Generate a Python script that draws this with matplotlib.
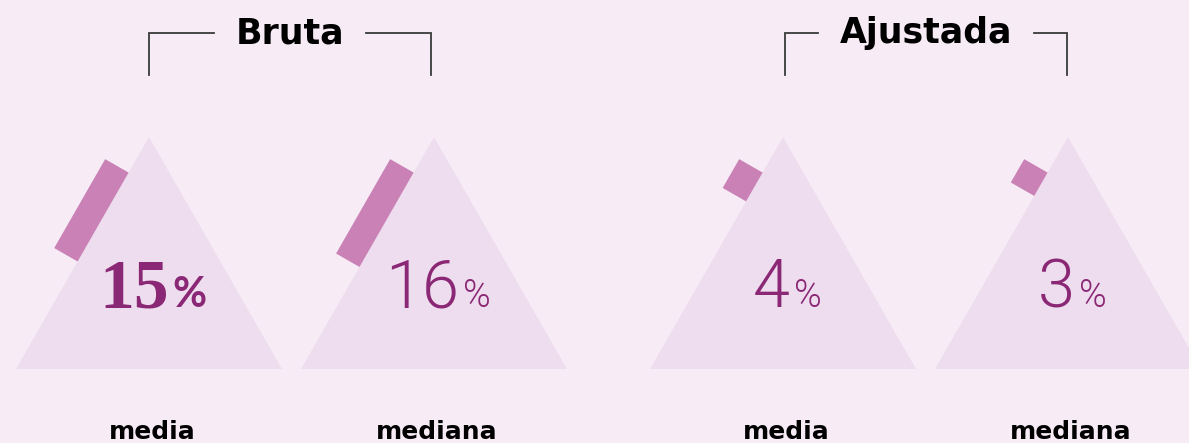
import numpy as np
import matplotlib.pyplot as plt
from matplotlib.patches import Polygon

# data
groups = ['Bruta', 'Ajustada']
labels = ['media', 'mediana', 'media', 'mediana']
values = [15, 16, 4, 3]
highlight = [True, False, False, False]

# colours
BG = '#F7ECF6'
TRI = '#EEDDEE'
BAR = '#C981B6'
TXT = '#8B2876'
LINE = '#3a3a3a'

# layout in pixel units
W, H = 1189, 443
apex_x = [149, 434, 783, 1068]
apex_y = 137
half_base = 133
tri_h = 232
bar_w = 27
bar_start = 41
px_per_pct = 6.3
bar_min = 8

fig = plt.figure(figsize=(W / 100, H / 100), dpi=100)
fig.patch.set_facecolor(BG)
ax = fig.add_axes([0, 0, 1, 1])
ax.set_xlim(0, W)
ax.set_ylim(H, 0)
ax.axis('off')

edge = np.array([-half_base, tri_h], dtype=float)
edge_len = np.hypot(*edge)
u = edge / edge_len
n = np.array([-tri_h, -half_base], dtype=float) / edge_len

for x0, v in zip(apex_x, values):
    tri = Polygon([(x0, apex_y), (x0 - half_base, apex_y + tri_h),
                   (x0 + half_base, apex_y + tri_h)], closed=True,
                  facecolor=TRI, edgecolor='none')
    ax.add_patch(tri)
    top = np.array([x0, apex_y], dtype=float)
    p0 = top + u * bar_start
    p1 = top + u * (bar_start + bar_min + px_per_pct * v)
    bar = Polygon([p0, p1, p1 + n * bar_w, p0 + n * bar_w], closed=True,
                  facecolor=BAR, edgecolor='none')
    ax.add_patch(bar)

# percent labels: number + smaller percent sign, centred as a pair
fig.canvas.draw()
r = fig.canvas.get_renderer()
for x0, v, hl in zip(apex_x, values, highlight):
    if hl:
        t1 = ax.text(0, 307, str(v), fontsize=50, fontweight='bold',
                     family='Liberation Serif', color=TXT, va='baseline')
        t2 = ax.text(0, 307, '%', fontsize=30, fontweight='bold',
                     family='Lato', color=TXT, va='baseline')
    else:
        t1 = ax.text(0, 307, str(v), fontsize=48, fontweight=300,
                     family='Roboto', color=TXT, va='baseline')
        t2 = ax.text(0, 307, '%', fontsize=27, fontweight=300,
                     family='Roboto', color=TXT, va='baseline')
    w1 = t1.get_window_extent(r).width
    w2 = t2.get_window_extent(r).width
    gap = 4
    left = x0 + 4 - (w1 + gap + w2) / 2
    t1.set_x(left)
    t2.set_x(left + w1 + gap)

for x0, lab in zip(apex_x, labels):
    ax.text(x0 + 3, 439, lab, fontsize=18, fontweight='bold',
            color='black', ha='center', va='baseline')

# group brackets
brackets = [(apex_x[0], apex_x[1] - 3), (apex_x[2] + 2, apex_x[3] - 1)]
for (xl, xr), g in zip(brackets, groups):
    xc = (xl + xr) / 2
    t = ax.text(xc, 33, g, fontsize=25, fontweight='bold', color='black',
                ha='center', va='center')
    tw = t.get_window_extent(r).width
    gap = 22
    ax.plot([xl, xl, xc - tw / 2 - gap], [75, 33, 33], color=LINE, lw=1.3,
            solid_joinstyle='miter')
    ax.plot([xc + tw / 2 + gap, xr, xr], [33, 33, 75], color=LINE, lw=1.3,
            solid_joinstyle='miter')

fig.savefig('out.png', dpi=100, facecolor=BG)
